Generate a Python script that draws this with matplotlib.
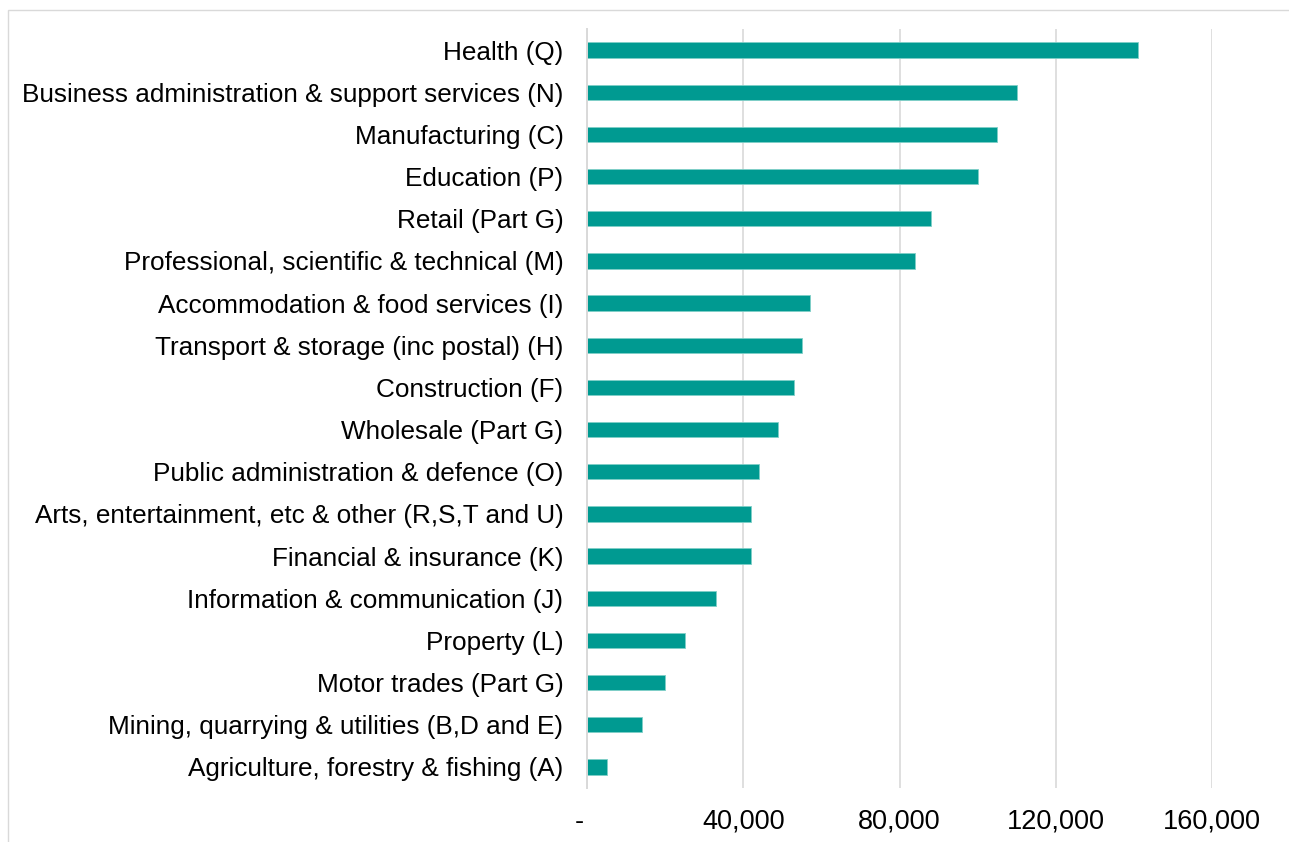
import matplotlib
matplotlib.use("Agg")
import matplotlib.pyplot as plt
from matplotlib.ticker import FuncFormatter
from matplotlib.patches import Rectangle

plt.rcParams['font.family'] = ['Liberation Sans', 'DejaVu Sans']

categories = [
    "Health (Q)",
    "Business administration & support services (N)",
    "Manufacturing (C)",
    "Education (P)",
    "Retail (Part G)",
    "Professional, scientific & technical (M)",
    "Accommodation & food services (I)",
    "Transport & storage (inc postal) (H)",
    "Construction (F)",
    "Wholesale (Part G)",
    "Public administration & defence (O)",
    "Arts, entertainment, etc & other (R,S,T and U)",
    "Financial & insurance (K)",
    "Information & communication (J)",
    "Property (L)",
    "Motor trades (Part G)",
    "Mining, quarrying & utilities (B,D and E)",
    "Agriculture, forestry & fishing (A)",
]
values = [141000, 110000, 105000, 100000, 88000, 84000, 57000, 55000, 53000,
          49000, 44000, 42000, 42000, 33000, 25000, 20000, 14000, 5000]
xticks = [0, 40000, 80000, 120000, 160000]

W, H = 1289, 842
fig = plt.figure(figsize=(W / 100, H / 100), dpi=100)

# chart-area border (top and left visible)
fig.patches.append(Rectangle((8 / W, -0.1), 1.2, (H - 10) / H + 0.1,
                             transform=fig.transFigure, fill=False,
                             edgecolor='#d9d9d9', linewidth=1.0))

ax = fig.add_axes([587 / W, (H - 788) / H, (1212 - 587) / W, (788 - 29) / H])

ypos = list(range(len(categories)))
ax.barh(ypos, values, height=0.36, color='#009A91', edgecolor='#7fcfc8',
        linewidth=0.6, zorder=3)
ax.set_yticks(ypos)
ax.set_yticklabels(categories, fontsize=18.8, color='black')
ax.set_ylim(len(categories) - 0.5, -0.5)
ax.set_xlim(0, 160000)
ax.set_xticks(xticks)
ax.xaxis.set_major_formatter(FuncFormatter(lambda v, p: "-  " if v == 0 else f"{int(v):,}"))
ax.tick_params(axis='x', labelsize=19.5, length=0, pad=15, colors='black')
ax.tick_params(axis='y', length=0, pad=17)
ax.grid(axis='x', color='#d9d9d9', linewidth=1.2, zorder=0)
for s in ['top', 'right', 'bottom']:
    ax.spines[s].set_visible(False)
ax.spines['left'].set_color('#d9d9d9')
ax.spines['left'].set_linewidth(1.4)
ax.spines['left'].set_zorder(4)

fig.savefig("out.png", dpi=100)
